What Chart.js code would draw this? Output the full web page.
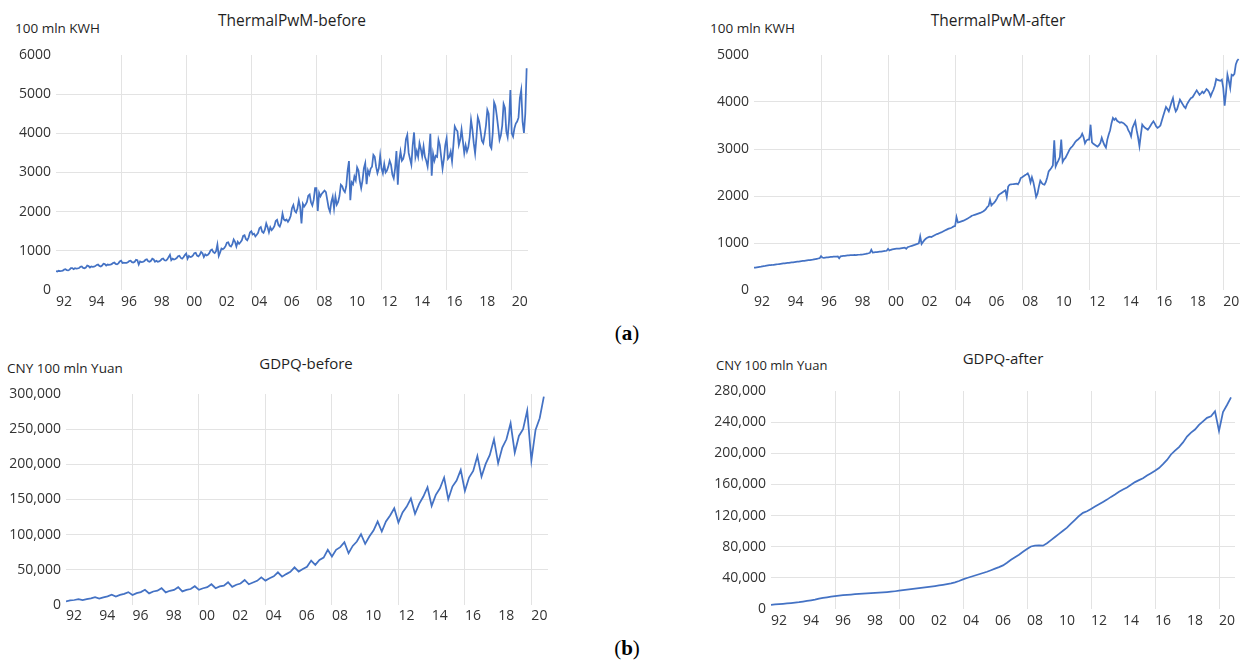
<!DOCTYPE html>
<html>
<head>
<meta charset="utf-8">
<script src="https://cdn.jsdelivr.net/npm/chart.js@4.4.1/dist/chart.umd.min.js"></script>
<style>
  body { margin: 0; background: #fff; }
  #page { position: relative; width: 1243px; height: 664px; overflow: hidden; font-family: "Open Sans", sans-serif; color: #333; }
  canvas { position: absolute; }
  .title { position: absolute; transform: translate(-50%, -50%); white-space: nowrap; color: #1f1f1f; }
  .unit { position: absolute; transform: translateY(-50%); white-space: nowrap; color: #1f1f1f; }
  .tag { position: absolute; transform: translate(-50%, -50%); font-family: "Liberation Serif", "DejaVu Serif", serif; font-size: 21px; color: #000; }
</style>
</head>
<body>
<div id="page">
  <div class="title" style="left:292px; top:20px; font-size:15.5px;">ThermalPwM-before</div>
  <div class="unit" style="left:15px; top:28px; font-size:13.5px;">100 mln KWH</div>
  <canvas id="tl" width="540" height="280" style="left:0px; top:40px;"></canvas>

  <div class="title" style="left:998px; top:20px; font-size:15.5px;">ThermalPwM-after</div>
  <div class="unit" style="left:710px; top:28px; font-size:13.5px;">100 mln KWH</div>
  <canvas id="tr" width="549" height="280" style="left:694px; top:40px;"></canvas>

  <div class="tag" style="left:627px; top:333px;">(<b>a</b>)</div>

  <div class="title" style="left:306px; top:363px; font-size:15px;">GDPQ-before</div>
  <div class="unit" style="left:7px; top:368px; font-size:13.5px;">CNY 100 mln Yuan</div>
  <canvas id="bl" width="560" height="256" style="left:0px; top:380px;"></canvas>

  <div class="title" style="left:1003px; top:358px; font-size:15px;">GDPQ-after</div>
  <div class="unit" style="left:716px; top:365px; font-size:13px;">CNY 100 mln Yuan</div>
  <canvas id="br" width="543" height="265" style="left:700px; top:375px;"></canvas>

  <div class="tag" style="left:627px; top:648px;">(<b>b</b>)</div>
</div>

<script>
// year labels, one every two years
const yearLabels = ['92', '94', '96', '98', '00', '02', '04', '06', '08', '10', '12', '14', '16', '18', '20'];

// thermal power, monthly, Jan 1992 - Dec 2020 (100 mln KWH)
const thermalBefore = [
  485, 470, 490, 480, 485, 495, 520, 530, 505, 500, 520, 560,
  560, 530, 555, 545, 550, 560, 590, 600, 565, 555, 575, 625,
  610, 575, 600, 590, 595, 610, 640, 650, 615, 600, 625, 670,
  660, 625, 650, 640, 645, 660, 690, 700, 665, 655, 680, 730,
  750, 690, 700, 690, 695, 710, 740, 750, 710, 700, 720, 770,
  760, 650, 730, 715, 720, 735, 770, 785, 735, 720, 745, 800,
  780, 720, 745, 720, 730, 750, 790, 805, 760, 750, 780, 840,
  900, 760, 800, 780, 790, 815, 860, 875, 820, 800, 835, 890,
  930, 800, 870, 840, 850, 880, 940, 950, 880, 860, 900, 970,
  940, 840, 910, 880, 900, 940, 1010, 1035, 965, 945, 990, 1160,
  870, 960, 1060, 1040, 1070, 1120, 1210, 1220, 1130, 1110, 1170, 1290,
  1230, 1110, 1230, 1180, 1220, 1270, 1380, 1400, 1300, 1270, 1340, 1470,
  1500, 1420, 1440, 1370, 1410, 1460, 1580, 1610, 1490, 1460, 1540, 1700,
  1600, 1470, 1600, 1530, 1570, 1630, 1760, 1790, 1660, 1620, 1720, 1950,
  1800, 1770, 1800, 1740, 1800, 1890, 2090, 2170, 2020, 1980, 2080, 2290,
  2130, 1700, 2200, 2130, 2180, 2250, 2410, 2440, 2240, 2160, 2300, 2600,
  2600, 2020, 2480, 2390, 2460, 2500, 2540, 2500, 2300, 2100, 2000, 2250,
  2380, 2080, 2388, 2180, 2250, 2400, 2687, 2650, 2550, 2500, 2650, 3050,
  3290, 2290, 2750, 2700, 2900, 2800, 3130, 3050, 2780, 2600, 2800, 3110,
  3240, 2700, 3050, 2950, 3100, 3150, 3450, 3400, 3150, 2984, 3100, 3430,
  3100, 2980, 3215, 3000, 3050, 3150, 3300, 3200, 2950, 2850, 3100, 3550,
  2690, 3300, 3536, 3300, 3350, 3500, 3850, 3962, 3500, 3350, 3200, 3700,
  4023, 3395, 3550, 3400, 3750, 3600, 3410, 3665, 3400, 3300, 3150, 3500,
  3987, 2917, 3480, 3300, 3427, 3400, 3835, 3700, 3395, 3100, 3350, 3700,
  3877, 3350, 3400, 3536, 3280, 3700, 4175, 4100, 4050, 3700, 3835, 4100,
  3800, 3495, 3700, 3536, 3650, 3900, 4345, 4100, 3750, 3490, 3900, 4412,
  4300, 4065, 3810, 3750, 3950, 4200, 4600, 4500, 3690, 3620, 4000, 4792,
  4700, 4444, 4150, 3832, 3950, 4200, 4750, 4650, 4050, 3900, 4300, 5105,
  4000, 3918, 4130, 4250, 4300, 4400, 4900, 5105, 4300, 4010, 4500, 5663
];

const thermalAfter = [
  478, 476, 482, 488, 494, 498, 503, 508, 512, 517, 522, 527,
  530, 532, 536, 540, 544, 548, 552, 556, 560, 564, 568, 572,
  575, 578, 582, 586, 590, 594, 598, 602, 606, 610, 614, 618,
  622, 626, 630, 634, 638, 642, 646, 652, 658, 664, 670, 676,
  720, 690, 684, 688, 692, 696, 700, 703, 706, 708, 710, 712,
  714, 674, 716, 720, 724, 728, 732, 736, 738, 740, 742, 744,
  746, 744, 748, 750, 752, 755, 758, 762, 768, 775, 782, 790,
  855, 795, 800, 805, 808, 812, 815, 818, 822, 826, 830, 835,
  876, 840, 855, 865, 870, 875, 880, 878, 880, 885, 890, 895,
  900, 875, 910, 920, 930, 940, 950, 960, 972, 982, 992, 1140,
  979, 1020, 1060, 1090, 1110, 1125, 1135, 1128, 1145, 1160, 1175, 1190,
  1200, 1213, 1225, 1240, 1255, 1270, 1285, 1300, 1310, 1320, 1335, 1353,
  1360, 1553, 1438, 1445, 1455, 1465, 1475, 1490, 1505, 1520, 1540, 1560,
  1581, 1590, 1600, 1610, 1620, 1630, 1640, 1655, 1670, 1690, 1720, 1766,
  1790, 1921, 1800, 1830, 1860, 1900, 1950, 2013, 2040, 2060, 2080, 2100,
  2120, 1979, 2200, 2240, 2245, 2250, 2255, 2260, 2265, 2250, 2300, 2383,
  2400, 2420, 2440, 2460, 2481, 2420, 2290, 2400, 2300, 2150, 1979, 2050,
  2200, 2326, 2280, 2250, 2240, 2300, 2400, 2524, 2560, 2600, 2650, 3183,
  2630, 2700, 2760, 2830, 3200, 2725, 2780, 2810, 2870, 2930, 2990, 3030,
  3058, 3100, 3150, 3180, 3200, 3230, 3260, 3326, 3250, 3123, 3180, 3200,
  3200, 3517, 3140, 3110, 3090, 3070, 3050, 3080, 3130, 3240, 3150, 3080,
  3030, 3200, 3310, 3400, 3550, 3660, 3620, 3650, 3600, 3580, 3560, 3570,
  3560, 3540, 3510, 3480, 3400, 3350, 3268, 3450, 3520, 3588, 3400, 3250,
  3060, 3300, 3520, 3480, 3450, 3430, 3410, 3450, 3500, 3550, 3590, 3540,
  3480, 3450, 3470, 3500, 3600, 3700, 3800, 3894, 3850, 3800, 3900, 4000,
  4085, 3900, 3800, 3850, 3950, 4050, 4000, 3950, 3900, 3870, 3950, 4000,
  4050, 4085, 4100, 4150, 4200, 4247, 4200, 4150, 4180, 4220, 4190, 4230,
  4275, 4250, 4200, 4120, 4200, 4260, 4350, 4489, 4470, 4460, 4450, 4475,
  4300, 3921, 4200, 4580, 4450, 4298, 4580, 4560, 4600, 4800, 4880, 4915
];

// GDP, quarterly, 1992Q1 - 2020Q4 (CNY 100 mln)
const gdpBefore = [
  5262, 6484, 7109, 8339,
  6835, 8357, 9387, 11059,
  9064, 10900, 12300, 14600,
  12000, 14300, 15800, 18300,
  14100, 16900, 18400, 21600,
  16500, 19200, 20400, 23900,
  17900, 20200, 21400, 25300,
  19300, 21500, 22700, 26700,
  21600, 23800, 25300, 29500,
  23900, 26400, 27600, 32400,
  25800, 28800, 30600, 35600,
  29500, 32000, 34400, 39400,
  34700, 38000, 40700, 46500,
  40300, 43900, 47100, 53600,
  47500, 51100, 54400, 63200,
  57100, 64000, 67400, 78400,
  68900, 78400, 82300, 89300,
  73600, 84000, 90300, 100700,
  87000, 97400, 105900, 118700,
  104500, 118700, 127200, 137600,
  117300, 131500, 140000, 151400,
  129600, 143800, 154200, 167500,
  141000, 156600, 166000, 181200,
  150400, 168400, 176900, 192000,
  162200, 181200, 190600, 211900,
  182600, 200600, 213300, 235600,
  201500, 223800, 235600, 258400,
  216700, 240400, 249900, 276400,
  205300, 248900, 265500, 296300
];

const gdpAfter = [
  5400, 5800, 6200, 6600,
  7100, 7600, 8200, 8800,
  9600, 10400, 11200, 12000,
  13200, 14200, 15000, 15800,
  16600, 17200, 17700, 18200,
  18600, 19000, 19400, 19800,
  20100, 20400, 20700, 21000,
  21300, 21700, 22200, 22800,
  23500, 24200, 24900, 25600,
  26300, 26900, 27500, 28100,
  28800, 29500, 30300, 31100,
  32000, 33000, 34200, 36000,
  38000, 39800, 41400, 43000,
  44600, 46200, 47900, 49800,
  51800, 53800, 56000, 59500,
  63200, 66500, 69800, 73500,
  77000, 80300, 81500, 81600,
  81400, 84500, 88500, 92500,
  96500, 100500, 104500, 109500,
  114500, 119500, 123500, 125500,
  128500, 131500, 134500, 137500,
  140500, 144000, 147000, 150500,
  153500, 156000, 159500, 163000,
  165500, 168000, 171500, 174500,
  177500, 181000, 186000, 191500,
  198500, 203500, 208000, 214000,
  221500, 226500, 230500, 236500,
  241000, 245500, 247500, 254000,
  228800, 253000, 262000, 271700
];

const lineColor = '#4472c4';
const gridColor = '#e3e3e3';
const tickColor = '#333333';
const tickFont = { family: '"Open Sans", sans-serif', size: 14 };
const none = 'rgba(0,0,0,0)';

const plain = v => String(v);
const withCommas = v => v.toLocaleString('en-US');

function drawPanel(canvasId, values, o) {
  const points = values.map((v, i) => ({ x: i, y: v }));

  new Chart(document.getElementById(canvasId), {
    type: 'line',
    data: {
      datasets: [{
        data: points,
        borderColor: lineColor,
        borderWidth: 1.75,
        pointRadius: 0,
        tension: 0,
        fill: false
      }]
    },
    options: {
      responsive: false,
      animation: false,
      devicePixelRatio: 1,
      layout: { padding: { top: o.padTop, right: o.padRight, left: 0, bottom: 0 }, autoPadding: false },
      plugins: { legend: { display: false }, tooltip: { enabled: false } },
      scales: {
        x: {
          type: 'linear',
          min: 0,
          max: o.xMax,
          afterBuildTicks: s => { s.ticks = yearLabels.map((_, i) => ({ value: i * o.twoYears })); },
          afterFit: s => { s.height = o.xHeight; },
          border: { display: false },
          // vertical lines every four years, none at the left edge
          grid: { drawTicks: false, color: ctx => (ctx.index > 0 && ctx.index % 2 === 0) ? gridColor : none },
          ticks: {
            autoSkip: false, maxRotation: 0, minRotation: 0,
            padding: o.xPad, labelOffset: o.labelOffset,
            color: tickColor, font: tickFont,
            callback: (v, i) => yearLabels[i]
          }
        },
        y: {
          min: 0,
          max: o.yMax,
          afterFit: s => { s.width = o.yWidth; },
          border: { display: false },
          grid: { drawTicks: false, color: ctx => (ctx.tick.value > 0 && ctx.tick.value < o.yMax) ? gridColor : none },
          ticks: { stepSize: o.yStep, padding: 5, color: tickColor, font: tickFont, callback: o.yFormat }
        }
      }
    }
  });
}

drawPanel('tl', thermalBefore, { xMax: 348, twoYears: 24, yMax: 6000, yStep: 1000, yFormat: plain,
  yWidth: 56, padTop: 15, padRight: 12, xHeight: 30, xPad: 4, labelOffset: 8 });

drawPanel('tr', thermalAfter, { xMax: 348, twoYears: 24, yMax: 5000, yStep: 1000, yFormat: plain,
  yWidth: 60, padTop: 15, padRight: 3, xHeight: 30, xPad: 4, labelOffset: 8 });

drawPanel('bl', gdpBefore, { xMax: 116, twoYears: 8, yMax: 300000, yStep: 50000, yFormat: withCommas,
  yWidth: 66, padTop: 14, padRight: 12, xHeight: 31, xPad: 3, labelOffset: 8 });

drawPanel('br', gdpAfter, { xMax: 116, twoYears: 8, yMax: 280000, yStep: 40000, yFormat: withCommas,
  yWidth: 71, padTop: 16, padRight: 8, xHeight: 31, xPad: 4, labelOffset: 8 });
</script>
</body>
</html>
